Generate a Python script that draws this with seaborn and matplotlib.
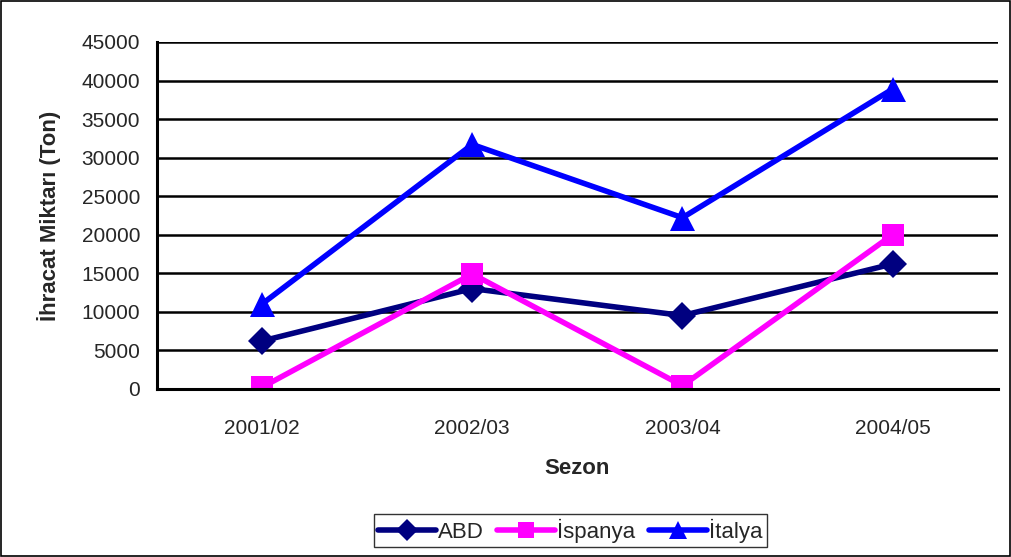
import pandas as pd
import numpy as np
import matplotlib.pyplot as plt
import seaborn as sns
from matplotlib.patches import Rectangle

sezon = ["2001/02", "2002/03", "2003/04", "2004/05"]
abd = [6200, 13000, 9500, 16200]
ispanya = [200, 14900, 400, 20000]
italya = [11000, 31700, 22200, 38900]
yticks = list(range(0, 45001, 5000))

rows = []
for name, vals in [("ABD", abd), ("İspanya", ispanya), ("İtalya", italya)]:
    for i, v in enumerate(vals):
        rows.append({"idx": i, "Sezon": sezon[i], "Ulke": name, "Ton": v})
df = pd.DataFrame(rows)

sns.set_style("white")
plt.rcParams["font.family"] = ["Liberation Sans", "DejaVu Sans"]

fig = plt.figure(figsize=(10.12, 5.57), dpi=100)
ax = fig.add_axes([0.155, 0.302, 0.831, 0.6226])

palette = {"ABD": "#000080", "İspanya": "#FF00FF", "İtalya": "#0000FF"}
markers = {"ABD": "D", "İspanya": "s", "İtalya": "^"}
sns.lineplot(data=df, x="idx", y="Ton", hue="Ulke", style="Ulke", palette=palette,
             markers=markers, dashes=False, linewidth=4.0, markersize=18,
             markeredgewidth=0, ax=ax)
for line in ax.lines:
    if line.get_marker() == "D":
        line.set_markersize(14.5)
    if line.get_marker() == "s":
        line.set_markersize(16)

ax.set_xlim(-0.5, 3.5)
ax.set_ylim(0, 45000)
ax.set_yticks(yticks)
ax.set_yticklabels([str(t) for t in yticks], fontsize=15)
ax.set_xticks(np.arange(-0.5, 4.0, 1.0))
ax.set_xticklabels([])
ax.set_xticks(range(len(sezon)), minor=True)
ax.set_xticklabels(sezon, minor=True, fontsize=15)
ax.tick_params(axis="x", which="major", direction="out", length=6, width=2, color="black")
ax.tick_params(axis="x", which="minor", length=0, pad=22)
ax.tick_params(axis="y", direction="out", length=7, width=2, color="black", pad=5)
ax.yaxis.grid(True, color="black", linewidth=1.8)
ax.set_axisbelow(True)
for s in ["top", "right"]:
    ax.spines[s].set_visible(False)
for s in ["left", "bottom"]:
    ax.spines[s].set_color("black")
    ax.spines[s].set_linewidth(2.2)

ax.set_xlabel("Sezon", fontsize=16, fontweight="bold", labelpad=14)
ax.set_ylabel("İhracat Miktarı (Ton)", fontsize=16, fontweight="bold", labelpad=15)

handles, labels = ax.get_legend_handles_labels()
leg = ax.legend(handles, labels, loc="center", bbox_to_anchor=(0.5635, 0.0475),
                bbox_transform=fig.transFigure, ncol=3, frameon=True, fancybox=False,
                fontsize=16, handlelength=2.6, handletextpad=0.1, columnspacing=0.6,
                borderpad=0.2, markerscale=0.75)
leg.get_frame().set_edgecolor("black")
leg.get_frame().set_linewidth(1.0)

fig.patches.append(Rectangle((0.001, 0.002), 0.997, 0.996, transform=fig.transFigure,
                             fill=False, edgecolor="black", linewidth=1.2))

fig.savefig("out.png", dpi=100)
